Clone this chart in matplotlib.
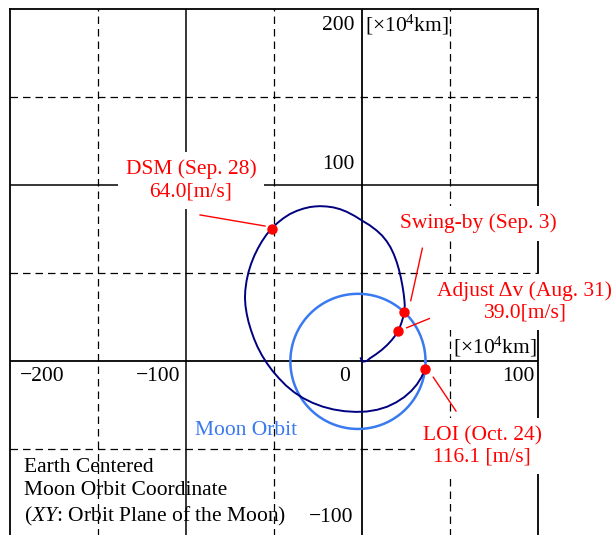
import numpy as np
import matplotlib
matplotlib.use("Agg")
import matplotlib.pyplot as plt

plt.rcParams['font.family'] = ['Liberation Serif', 'DejaVu Serif']
plt.rcParams['mathtext.fontset'] = 'custom'
plt.rcParams['mathtext.rm'] = 'Liberation Serif'
plt.rcParams['mathtext.it'] = 'Liberation Serif:italic'

# spacecraft path in the moon orbit frame, x/y in 10^4 km
traj_x = [-0.7, 0.2, 2.7, 4.5, 7.9, 11.2, 14.2, 16.9, 18.9, 20.6, 21.7, 22.6,
          23.4, 24.0, 24.3, 24.1, 23.7, 23.0, 22.1, 21.0, 19.7, 18.1, 16.2,
          14.0, 11.4, 8.4, 4.3, 0.2, -4.3, -8.7, -12.5, -16.3, -20.0, -23.9,
          -27.0, -29.5, -33.3, -37.1, -41.0, -44.7, -48.1, -51.3, -54.2, -56.8,
          -59.1, -61.2, -63.0, -64.5, -65.6, -66.3, -66.5, -66.2, -65.5, -64.5,
          -63.1, -61.4, -59.4, -57.0, -54.2, -51.0, -47.3, -43.2, -38.6, -33.6,
          -28.2, -22.4, -16.3, -10.0, -3.6, 2.6, 8.6, 14.2, 19.4, 24.0, 28.0,
          31.2, 33.8, 35.8]
traj_y = [1.25, -0.7, -0.3, 1.25, 3.5, 6.0, 8.7, 11.6, 14.2, 16.9, 19.4, 22.0,
          24.7, 27.4, 31.2, 34.2, 37.8, 42.3, 47.0, 51.6, 56.0, 60.3, 64.3,
          67.8, 71.0, 73.8, 76.9, 79.4, 82.2, 84.5, 86.0, 87.0, 87.5, 87.7,
          87.5, 87.2, 86.3, 85.0, 83.2, 80.8, 78.1, 75.0, 71.6, 67.8,
          63.8, 59.5, 55.0, 50.2, 45.2, 40.0, 35.5, 31.0, 26.5, 22.0,
          17.3, 12.5, 7.8, 3.2, -1.3, -5.7, -10.0, -14.2, -18.0, -21.3,
          -24.0, -26.2, -27.8, -28.8, -29.2, -29.0, -28.0, -26.3, -23.8, -20.8, -17.3,
          -13.6, -9.5, -5.0]

# moon orbit
moon_center = (-2.3, -0.5)
moon_radius = 38.4

# manoeuvre points
events = ["DSM", "Swing-by", "Adjust", "LOI"]
event_x = [-51.3, 24.0, 20.6, 35.8]
event_y = [75.0, 27.4, 16.9, -5.0]

# label text, text anchor, leader line (from, to)
labels = {
    "DSM": ("DSM (Sep. 28)\n64.0[m/s]", (-97.2, 102.4), ((-92.0, 82.7), (-55.1, 76.4))),
    "Swing-by": ("Swing-by (Sep. 3)", (66.3, 78.0), ((34.3, 63.8), (27.7, 34.0))),
    "Adjust": ("Adjust \u0394v (Aug. 31)\n39.0[m/s]", (92.6, 33.2), ((25.4, 18.6), (40.9, 24.9))),
    "LOI": ("LOI (Oct. 24)\n116.1 [m/s]", (68.2, -48.75), ((40.5, -9.5), (53.4, -28.7))),
}

fig = plt.figure(figsize=(6.13, 5.35), dpi=100)
ax = fig.add_axes([10 / 613, -1.5 / 535, 528 / 613, 528 / 535])
ax.set_xlim(-200, 100)
ax.set_ylim(-100, 200)
ax.set_aspect('equal')
ax.set_xticks([])
ax.set_yticks([])
for side in ['left', 'top', 'right', 'bottom']:
    ax.spines[side].set_linewidth(1.3)

# grid: solid every 100, dashed halfway
for v in [-100, 0]:
    ax.axvline(v, color='black', lw=1.3 if v == 0 else 1.1, zorder=0.5)
for v in [-150, -50, 50]:
    ax.axvline(v, color='black', lw=0.9, ls=(0, (6, 4)), zorder=0.5)
for v in [100, 0]:
    ax.axhline(v, color='black', lw=1.3 if v == 0 else 1.1, zorder=0.5)
for v in [150, 50, -50]:
    ax.axhline(v, color='black', lw=0.9, ls=(0, (6, 4)), zorder=0.5)

th = np.linspace(0, 2 * np.pi, 400)
ax.plot(moon_center[0] + moon_radius * np.cos(th),
        moon_center[1] + moon_radius * np.sin(th),
        color='#3a7af0', lw=1.8, zorder=2)
ax.plot(traj_x, traj_y, color='#000080', lw=1.4, zorder=3, solid_joinstyle='round')
ax.plot(event_x, event_y, 'o', color='#ff0000', ms=6.5, zorder=4)

fs = 15.5
box = dict(boxstyle='square,pad=0.35', fc='white', ec='none')
for name in events:
    txt, (tx, ty), (p0, p1) = labels[name]
    ax.plot([p0[0], p1[0]], [p0[1], p1[1]], color='#ff0000', lw=1.0, zorder=3)
    ax.text(tx, ty, txt, color='#ff0000', fontsize=fs, ha='center', va='center',
            multialignment='center', linespacing=1.2, bbox=box, zorder=5)

# axis numbers
ax.text(-4, 190.6, "200", fontsize=fs, ha='right', va='center')
ax.text(-4, 111.1, "100", fontsize=fs, ha='right', va='center')
ax.text(-4.9, -89.1, "\u2212100", fontsize=fs, ha='right', va='center')
ax.text(1.7, 190.6, "[\u00d710$^{4}$km]", fontsize=fs, ha='left', va='center')
ax.text(-169.3, -9.2, "\u2212200", fontsize=fs, ha='right', va='center')
ax.text(-103.4, -9.2, "\u2212100", fontsize=fs, ha='right', va='center')
ax.text(-6.8, -9.2, "0", fontsize=fs, ha='right', va='center')
ax.text(98.3, -9.2, "100", fontsize=fs, ha='right', va='center')
ax.text(99.4, 7.7, "[\u00d710$^{4}$km]", fontsize=fs, ha='right', va='center')

ax.text(-65.7, -39.5, "Moon Orbit", color='#3a7af0', fontsize=fs, ha='center', va='center')
ax.text(-192, -75.3, "Earth Centered\nMoon Orbit Coordinate\n($\\mathit{XY}$: Orbit Plane of the Moon)",
        fontsize=fs, ha='left', va='center', linespacing=1.27)

fig.savefig("out.png", dpi=100)
